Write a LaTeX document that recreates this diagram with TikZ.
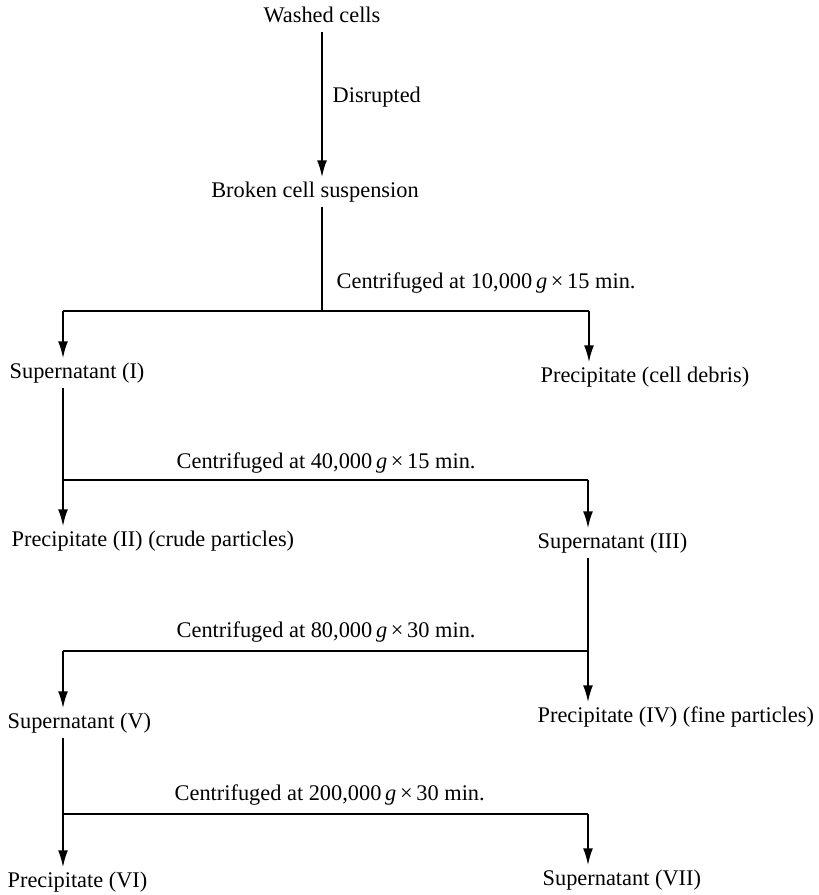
\documentclass[tikz,border=0pt]{standalone}
\usepackage{fontspec}
\setmainfont{Liberation Serif}
\usepackage{tikz}
\usetikzlibrary{arrows.meta}

\begin{document}
\begin{tikzpicture}[x=0.025cm, y=-0.025cm,
    lbl/.style={inner xsep=1pt, inner ysep=3pt, text height=11pt, text depth=3.5pt,
      font=\fontsize{15.9}{19}\selectfont},
    flow/.style={line width=1.4pt},
    tip/.style={flow, -{Latex[length=12pt, width=7pt]}}]
  \useasboundingbox (0,0) rectangle (819,895);

  % Steps
  \node[lbl] (wash) at (322,17) {Washed cells};
  \node[lbl, anchor=west] (disr) at (331,97) {Disrupted};
  \node[lbl] (broken) at (315,192) {Broken cell suspension};
  \node[lbl, anchor=west] (sup1) at (8,373) {Supernatant (I)};
  \node[lbl, anchor=west] (deb) at (539,377) {Precipitate (cell debris)};
  \node[lbl, anchor=west] (pre2) at (10,541) {Precipitate (II) (crude particles)};
  \node[lbl, anchor=west] (sup3) at (536,543) {Supernatant (III)};
  \node[lbl, anchor=west] (sup5) at (6,723) {Supernatant (V)};
  \node[lbl, anchor=west] (pre4) at (536,717) {Precipitate (IV) (fine particles)};
  \node[lbl, anchor=west] (pre6) at (6,882) {Precipitate (VI)};
  \node[lbl, anchor=west] (sup7) at (541,880) {Supernatant (VII)};

  % Spin conditions
  \node[lbl, anchor=west] (c1) at (335,283) {Centrifuged at 10,000\,\textit{g}\,×\,15 min.};
  \node[lbl, anchor=west] (c2) at (175,463) {Centrifuged at 40,000\,\textit{g}\,×\,15 min.};
  \node[lbl, anchor=west] (c3) at (175,632) {Centrifuged at 80,000\,\textit{g}\,×\,30 min.};
  \node[lbl, anchor=west] (c4) at (173,795) {Centrifuged at 200,000\,\textit{g}\,×\,30 min.};

  % Junctions
  \coordinate (j1) at (322,311);
  \coordinate (l1) at (63,311);
  \coordinate (r1) at (589,311);
  \coordinate (l2) at (63,480);
  \coordinate (r2) at (588,480);
  \coordinate (l3) at (63,651);
  \coordinate (r3) at (588,651);
  \coordinate (l4) at (63,814);
  \coordinate (r4) at (588,814);

  % First spin
  \draw[tip] (wash.south) -- (wash.south |- broken.north);
  \draw[flow] (broken.south -| j1) -- (j1);
  \draw[flow] (l1) -- (r1);
  \draw[tip] (l1) -- (l1 |- sup1.north);
  \draw[tip] (r1) -- (r1 |- deb.north);

  % Second spin
  \draw[flow] (sup1.south -| l2) -- (l2) -- (r2);
  \draw[tip] (l2) -- (l2 |- pre2.north);
  \draw[tip] (r2) -- (r2 |- sup3.north);

  % Third spin
  \draw[flow] (sup3.south -| r3) -- (r3) -- (l3);
  \draw[tip] (l3) -- (l3 |- sup5.north);
  \draw[tip] (r3) -- (r3 |- pre4.north);

  % Fourth spin
  \draw[flow] (sup5.south -| l4) -- (l4) -- (r4);
  \draw[tip] (l4) -- (l4 |- pre6.north);
  \draw[tip] (r4) -- (r4 |- sup7.north);
\end{tikzpicture}
\end{document}
